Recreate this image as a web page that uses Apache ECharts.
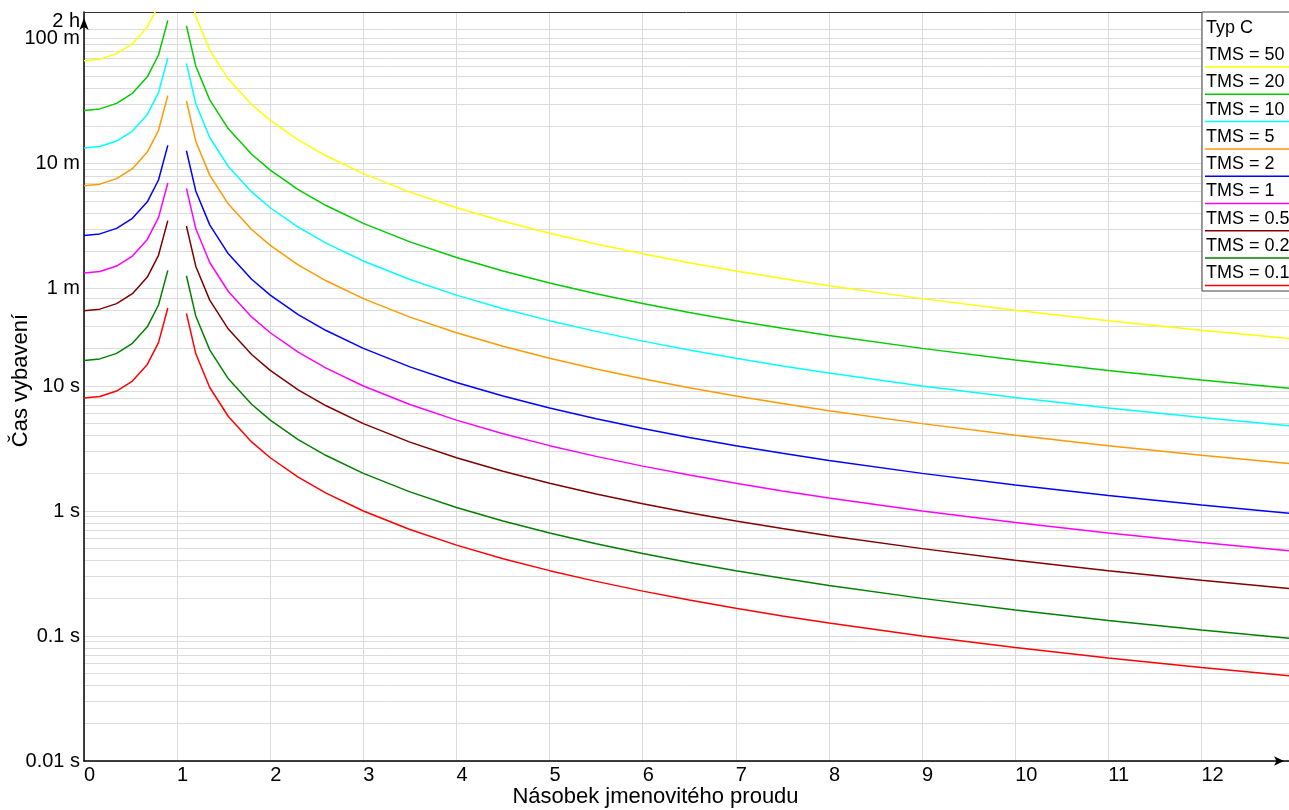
<!DOCTYPE html>
<html>
<head>
<meta charset="utf-8">
<title>Typ C</title>
<script src="https://cdn.jsdelivr.net/npm/echarts@6/dist/echarts.min.js"></script>
<style>
  html, body { margin: 0; padding: 0; background: #fff; }
  #chart { width: 1289px; height: 810px; }
</style>
</head>
<body>
<div id="chart"></div>
<script>
// násobek proudu - levá a pravá větev
const xLeft = [0, 0.17, 0.35, 0.52, 0.68, 0.8, 0.9];
const xRight = [1.1, 1.2, 1.35, 1.55, 1.8, 2, 2.3, 2.6, 3, 3.5, 4, 4.5, 5, 5.5, 6, 6.5, 7, 7.5, 8, 9, 10, 11, 12, 12.94];

// časy v sekundách
const t50L = [4000, 4119, 4558, 5482, 7440, 11111, 21053];
const t50R = [19048, 9091, 4863, 2852, 1786, 1333, 932.4, 694.4, 500, 355.6, 266.7, 207.8, 166.7, 136.8, 114.3, 96.97, 83.33, 72.40, 63.49, 50, 40.40, 33.33, 27.97, 24.03];
const t20L = [1600, 1648, 1823, 2193, 2976, 4444, 8421];
const t20R = [7619, 3636, 1945, 1141, 714.3, 533.3, 373.0, 277.8, 200, 142.2, 106.7, 83.12, 66.67, 54.70, 45.71, 38.79, 33.33, 28.96, 25.40, 20, 16.16, 13.33, 11.19, 9.613];
const t10L = [800, 823.8, 911.7, 1096, 1488, 2222, 4211];
const t10R = [3810, 1818, 972.6, 570.4, 357.1, 266.7, 186.5, 138.9, 100, 71.11, 53.33, 41.56, 33.33, 27.35, 22.86, 19.39, 16.67, 14.48, 12.70, 10, 8.081, 6.667, 5.594, 4.807];
const t5L = [400, 411.9, 455.8, 548.2, 744.0, 1111, 2105];
const t5R = [1905, 909.1, 486.3, 285.2, 178.6, 133.3, 93.24, 69.44, 50, 35.56, 26.67, 20.78, 16.67, 13.68, 11.43, 9.697, 8.333, 7.240, 6.349, 5, 4.040, 3.333, 2.797, 2.403];
const t2L = [160, 164.8, 182.3, 219.3, 297.6, 444.4, 842.1];
const t2R = [761.9, 363.6, 194.5, 114.1, 71.43, 53.33, 37.30, 27.78, 20, 14.22, 10.67, 8.312, 6.667, 5.470, 4.571, 3.879, 3.333, 2.896, 2.540, 2, 1.616, 1.333, 1.119, 0.9613];
const t1L = [80, 82.38, 91.17, 109.6, 148.8, 222.2, 421.1];
const t1R = [381.0, 181.8, 97.26, 57.04, 35.71, 26.67, 18.65, 13.89, 10, 7.111, 5.333, 4.156, 3.333, 2.735, 2.286, 1.939, 1.667, 1.448, 1.270, 1, 0.8081, 0.6667, 0.5594, 0.4807];
const t05L = [40, 41.19, 45.58, 54.82, 74.40, 111.1, 210.5];
const t05R = [190.5, 90.91, 48.63, 28.52, 17.86, 13.33, 9.324, 6.944, 5, 3.556, 2.667, 2.078, 1.667, 1.368, 1.143, 0.9697, 0.8333, 0.7240, 0.6349, 0.5, 0.4040, 0.3333, 0.2797, 0.2403];
const t02L = [16, 16.48, 18.23, 21.93, 29.76, 44.44, 84.21];
const t02R = [76.19, 36.36, 19.45, 11.41, 7.143, 5.333, 3.730, 2.778, 2, 1.422, 1.067, 0.8312, 0.6667, 0.5470, 0.4571, 0.3879, 0.3333, 0.2896, 0.2540, 0.2, 0.1616, 0.1333, 0.1119, 0.09613];
const t01L = [8, 8.238, 9.117, 10.96, 14.88, 22.22, 42.11];
const t01R = [38.10, 18.18, 9.726, 5.704, 3.571, 2.667, 1.865, 1.389, 1, 0.7111, 0.5333, 0.4156, 0.3333, 0.2735, 0.2286, 0.1939, 0.1667, 0.1448, 0.1270, 0.1, 0.08081, 0.06667, 0.05594, 0.04807];

const tmsNames = ['TMS = 50', 'TMS = 20', 'TMS = 10', 'TMS = 5', 'TMS = 2', 'TMS = 1', 'TMS = 0.5', 'TMS = 0.2', 'TMS = 0.1'];
const leftData = [t50L, t20L, t10L, t5L, t2L, t1L, t05L, t02L, t01L];
const rightData = [t50R, t20R, t10R, t5R, t2R, t1R, t05R, t02R, t01R];
const colors = ['#ffff00', '#00cc00', '#00ffff', '#ff9900', '#0000ff', '#ff00ff', '#800000', '#008000', '#ff0000'];

// osy
const xTicks = [0, 1, 2, 3, 4, 5, 6, 7, 8, 9, 10, 11, 12];
const yTickSeconds = [0.01, 0.1, 1, 10, 60, 600, 6000];
const yTickLabels = ['0.01 s', '0.1 s', '1 s', '10 s', '1 m', '10 m', '100 m'];
const yTopSeconds = [7200];
const yTopLabels = ['2 h'];
const gridSeconds = [
  0.01, 0.02, 0.03, 0.04, 0.05, 0.06, 0.07, 0.08, 0.09,
  0.1, 0.2, 0.3, 0.4, 0.5, 0.6, 0.7, 0.8, 0.9,
  1, 2, 3, 4, 5, 6, 7, 8, 9,
  10, 20, 30, 40, 50,
  60, 120, 180, 240, 300, 360, 420, 480, 540,
  600, 1200, 1800, 2400, 3000, 3600, 4200, 4800, 5400, 6000,
  7200
];

const font = "'Liberation Sans', Arial, sans-serif";
const lg = v => Math.log10(v);
const yMin = -2, yMax = 3.992;

let series = [];
for (let i = 0; i < tmsNames.length; i++) {
  [[xLeft, leftData[i]], [xRight, rightData[i]]].forEach(function (b) {
    series.push({
      name: tmsNames[i],
      type: 'line',
      showSymbol: false,
      symbol: 'none',
      clip: true,
      lineStyle: { color: colors[i], width: 1.5 },
      itemStyle: { color: colors[i] },
      data: b[0].map((x, j) => [x, lg(b[1][j])])
    });
  });
}

// legenda vpravo nahoře
let graphic = [{
  type: 'rect',
  z: 100,
  shape: { x: 1202, y: 12, width: 110, height: 279 },
  style: { fill: '#fff', stroke: '#444', lineWidth: 1 }
}, {
  type: 'text',
  z: 101,
  x: 1206, y: 28,
  style: { text: 'Typ C', fill: '#000', fontSize: 18, fontFamily: font, verticalAlign: 'middle' }
}];
tmsNames.forEach(function (n, i) {
  graphic.push({
    type: 'text',
    z: 101,
    x: 1206, y: 55 + i * 27.3,
    style: { text: n, fill: '#000', fontSize: 18, fontFamily: font, verticalAlign: 'middle' }
  });
  graphic.push({
    type: 'line',
    z: 101,
    shape: { x1: 1205, y1: 67 + i * 27.3, x2: 1300, y2: 67 + i * 27.3 },
    style: { stroke: colors[i], lineWidth: 1.5 }
  });
});

function labelFor(secs, texts) {
  return function (v) {
    let idx = secs.findIndex(s => Math.abs(lg(s) - v) < 1e-6);
    return idx < 0 ? '' : texts[idx];
  };
}

const chart = echarts.init(document.getElementById('chart'));
chart.setOption({
  animation: false,
  backgroundColor: '#fff',
  grid: { left: 84, top: 12, right: 0, bottom: 49, outerBoundsMode: 'none' },
  xAxis: [{
    type: 'value',
    min: 0,
    max: 12.94,
    name: 'Násobek jmenovitého proudu',
    nameLocation: 'middle',
    nameGap: 25,
    nameMoveOverlap: false,
    nameTextStyle: { fontSize: 22, color: '#000', fontFamily: font, padding: [0, 62, 0, 0] },
    axisLine: {
      show: true, onZero: false,
      lineStyle: { color: '#000', width: 1.5 },
      symbol: ['none', 'arrow'], symbolSize: [7, 10], symbolOffset: [0, -5]
    },
    axisTick: { show: false, customValues: xTicks },
    axisLabel: {
      customValues: xTicks, align: 'left', margin: 4,
      fontSize: 20, color: '#000', fontFamily: font, hideOverlap: false,
      showMinLabel: true, showMaxLabel: true
    },
    splitLine: { show: true, lineStyle: { color: '#dcdcdc', width: 1 } }
  }, {
    type: 'value',
    position: 'top',
    min: 0,
    max: 12.94,
    axisLine: { show: true, onZero: false, lineStyle: { color: '#333', width: 1 } },
    axisTick: { show: false },
    axisLabel: { show: false },
    splitLine: { show: false }
  }],
  yAxis: [{
    type: 'value',
    min: yMin,
    max: yMax,
    name: 'Čas vybavení',
    nameLocation: 'middle',
    nameRotate: 90,
    nameGap: 52,
    nameMoveOverlap: false,
    nameTextStyle: { fontSize: 22, color: '#000', fontFamily: font, padding: [0, 0, 0, 12] },
    axisLine: {
      show: true, onZero: false,
      lineStyle: { color: '#000', width: 1.5 },
      symbol: ['none', 'arrow'], symbolSize: [7, 12], symbolOffset: [0, -6]
    },
    axisTick: { show: false, customValues: gridSeconds.map(lg) },
    axisLabel: {
      customValues: yTickSeconds.map(lg),
      margin: 4,
      fontSize: 20, color: '#000', fontFamily: font, hideOverlap: false,
      showMinLabel: true, showMaxLabel: true,
      formatter: labelFor(yTickSeconds, yTickLabels)
    },
    splitLine: { show: true, lineStyle: { color: '#dcdcdc', width: 1 } }
  }, {
    // jen popisek 2 h, posunutý nahoru
    type: 'value',
    position: 'left',
    min: yMin,
    max: yMax,
    axisLine: { show: false },
    axisTick: { show: false, customValues: yTopSeconds.map(lg) },
    splitLine: { show: false },
    axisLabel: {
      customValues: yTopSeconds.map(lg),
      margin: 4,
      fontSize: 20, color: '#000', fontFamily: font,
      showMinLabel: true, showMaxLabel: true,
      formatter: function (v) { return '{hi|' + labelFor(yTopSeconds, yTopLabels)(v) + '}'; },
      rich: { hi: { fontSize: 20, color: '#000', fontFamily: font, padding: [0, 0, 14, 0] } }
    }
  }],
  series: series,
  graphic: graphic
});
</script>
</body>
</html>
